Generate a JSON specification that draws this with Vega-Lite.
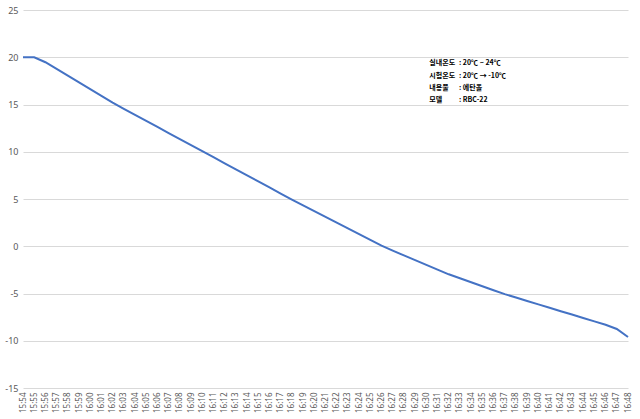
{
  "$schema": "https://vega.github.io/schema/vega-lite/v6.json",
  "width": 605,
  "height": 378,
  "autosize": {"type": "none"},
  "padding": {"left": 23, "top": 10, "right": 12, "bottom": 31},
  "background": "white",
  "config": {"view": {"stroke": null}, "font": "Noto Sans"},
  "datasets": {
    "temp": [
      {"time": "15:54", "temp": 20},
      {"time": "15:55", "temp": 20},
      {"time": "15:56", "temp": 19.47},
      {"time": "15:57", "temp": 18.76},
      {"time": "15:58", "temp": 18.05},
      {"time": "15:59", "temp": 17.34},
      {"time": "16:00", "temp": 16.63},
      {"time": "16:01", "temp": 15.92},
      {"time": "16:02", "temp": 15.2},
      {"time": "16:03", "temp": 14.54},
      {"time": "16:04", "temp": 13.9},
      {"time": "16:05", "temp": 13.26},
      {"time": "16:06", "temp": 12.62},
      {"time": "16:07", "temp": 11.98},
      {"time": "16:08", "temp": 11.34},
      {"time": "16:09", "temp": 10.7},
      {"time": "16:10", "temp": 10.06},
      {"time": "16:11", "temp": 9.42},
      {"time": "16:12", "temp": 8.78},
      {"time": "16:13", "temp": 8.14},
      {"time": "16:14", "temp": 7.5},
      {"time": "16:15", "temp": 6.86},
      {"time": "16:16", "temp": 6.22},
      {"time": "16:17", "temp": 5.58},
      {"time": "16:18", "temp": 4.94},
      {"time": "16:19", "temp": 4.33},
      {"time": "16:20", "temp": 3.72},
      {"time": "16:21", "temp": 3.11},
      {"time": "16:22", "temp": 2.5},
      {"time": "16:23", "temp": 1.89},
      {"time": "16:24", "temp": 1.28},
      {"time": "16:25", "temp": 0.67},
      {"time": "16:26", "temp": 0.06},
      {"time": "16:27", "temp": -0.47},
      {"time": "16:28", "temp": -0.97},
      {"time": "16:29", "temp": -1.47},
      {"time": "16:30", "temp": -1.97},
      {"time": "16:31", "temp": -2.47},
      {"time": "16:32", "temp": -2.97},
      {"time": "16:33", "temp": -3.39},
      {"time": "16:34", "temp": -3.81},
      {"time": "16:35", "temp": -4.23},
      {"time": "16:36", "temp": -4.65},
      {"time": "16:37", "temp": -5.07},
      {"time": "16:38", "temp": -5.43},
      {"time": "16:39", "temp": -5.79},
      {"time": "16:40", "temp": -6.15},
      {"time": "16:41", "temp": -6.51},
      {"time": "16:42", "temp": -6.87},
      {"time": "16:43", "temp": -7.23},
      {"time": "16:44", "temp": -7.59},
      {"time": "16:45", "temp": -7.95},
      {"time": "16:46", "temp": -8.31},
      {"time": "16:47", "temp": -8.75},
      {"time": "16:48", "temp": -9.6}
    ],
    "notes": [
      {"lx": "16:30", "vx": "16:33", "y": 19.35, "label": "실내온도", "value": ": 20℃ ~ 24℃"},
      {"lx": "16:30", "vx": "16:33", "y": 18.03, "label": "시험온도", "value": ": 20℃ → -10℃"},
      {"lx": "16:30", "vx": "16:33", "y": 16.76, "label": "내용물", "value": ": 에탄올"},
      {"lx": "16:30", "vx": "16:33", "y": 15.5, "label": "모델", "value": ": RBC-22"}
    ]
  },
  "layer": [
    {
      "data": {"name": "temp"},
      "mark": {"type": "line", "color": "#4472C4", "strokeWidth": 2},
      "encoding": {
        "x": {
          "field": "time",
          "type": "ordinal",
          "sort": null,
          "scale": {"type": "point", "padding": 0},
          "axis": {
            "labelAngle": -90,
            "labelFontSize": 8,
            "labelColor": "#595959",
            "grid": false,
            "ticks": false,
            "domain": false,
            "title": null,
            "labelPadding": 4,
            "labelOverlap": false,
            "labelBound": false,
            "labelFlush": false
          }
        },
        "y": {
          "field": "temp",
          "type": "quantitative",
          "scale": {"domain": [-15, 25], "nice": false, "zero": false},
          "axis": {
            "values": [-15, -10, -5, 0, 5, 10, 15, 20, 25],
            "labelExpr": "toString(datum.value)",
            "grid": true,
            "gridColor": "#d9d9d9",
            "domain": false,
            "ticks": false,
            "labelFontSize": 9,
            "labelColor": "#595959",
            "title": null,
            "labelPadding": 5
          }
        }
      }
    },
    {
      "data": {"name": "notes"},
      "mark": {"type": "text", "align": "left", "baseline": "middle", "dx": 3, "fontSize": 7, "fontWeight": "bold", "font": "Noto Sans CJK KR", "color": "black"},
      "encoding": {
        "x": {"field": "lx", "type": "ordinal", "sort": null},
        "y": {"field": "y", "type": "quantitative"},
        "text": {"field": "label"}
      }
    },
    {
      "data": {"name": "notes"},
      "mark": {"type": "text", "align": "left", "baseline": "middle", "dx": -1, "fontSize": 7, "fontWeight": "bold", "font": "Noto Sans CJK KR", "color": "black"},
      "encoding": {
        "x": {"field": "vx", "type": "ordinal", "sort": null},
        "y": {"field": "y", "type": "quantitative"},
        "text": {"field": "value"}
      }
    }
  ]
}
